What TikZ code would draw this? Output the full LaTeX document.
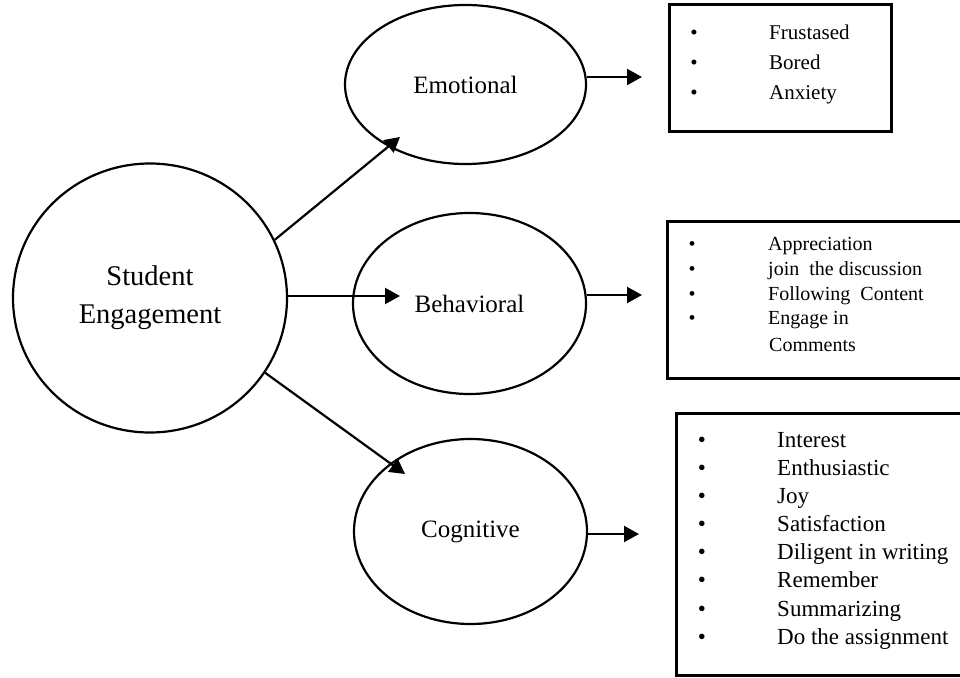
\documentclass[tikz,border=0pt]{standalone}
\usepackage{fontspec}
\setmainfont{Liberation Serif}
\usetikzlibrary{shapes.geometric,arrows.meta}
\tikzset{
  oval/.style={draw=black, line width=2.2pt, ellipse, inner sep=0pt},
  conn/.style={draw=black, line width=2.2pt, -{Triangle[length=15pt,width=16pt]}},
  listbox/.style={draw=black, line width=3pt, rectangle, inner sep=0pt},
  bul/.style={anchor=base, inner sep=0pt},
  itm/.style={anchor=base west, inner sep=0pt},
}
\begin{document}
\begin{tikzpicture}[x=1pt,y=-1pt]
\useasboundingbox (0,0) rectangle (960,677);
% main circle
\node[oval, minimum width=274pt, minimum height=269pt, align=center,
      font=\fontsize{28.5}{38}\selectfont] (S) at (150,298) {Student\\Engagement};
% ellipses
\node[oval, minimum width=241pt, minimum height=159pt, font=\fontsize{25}{30}\selectfont] (E) at (465.5,84.5) {Emotional};
\node[oval, minimum width=233pt, minimum height=181pt, font=\fontsize{25}{30}\selectfont] (B) at (469.5,303.5) {Behavioral};
\node[oval, minimum width=233pt, minimum height=185pt, font=\fontsize{25}{30}\selectfont] (C) at (470.5,531.5) {Cognitive};
% boxes
\node[listbox, minimum width=222pt, minimum height=126pt] (BE) at (780,68) {};
\node[listbox, minimum width=300pt, minimum height=157pt] (BB) at (817,299.5) {};
\node[listbox, minimum width=290pt, minimum height=262pt] (BC) at (821,544) {};
% arrow tips
\coordinate (tSE) at (400,137);
\coordinate (tSB) at (400,296);
\coordinate (tSC) at (405,474);
\coordinate (tE) at (642,77);
\coordinate (tB) at (642,295);
\coordinate (tC) at (639,534);
% connectors
\draw[conn] (S.25) -- (tSE);
\draw[conn] (S.east |- tSB) -- (tSB);
\draw[conn] (S.-33) -- (tSC);
\draw[conn] (E.east |- tE) -- (tE);
\draw[conn] (B.east |- tB) -- (tB);
\draw[conn] (C.east |- tC) -- (tC);
% emotional list
\begin{scope}[font=\fontsize{21}{25}\selectfont]
\node[bul] (be1) at (694,40) {•};
\node[bul] (be2) at (694,69) {•};
\node[bul] (be3) at (694,99) {•};
\node[itm] (te1) at (769,40) {Frustased};
\node[itm] (te2) at (769,69) {Bored};
\node[itm] (te3) at (769,99) {Anxiety};
\end{scope}
% behavioral list
\begin{scope}[font=\fontsize{20}{24}\selectfont]
\node[bul] (bb1) at (692,250) {•};
\node[bul] (bb2) at (692,275) {•};
\node[bul] (bb3) at (692,300) {•};
\node[bul] (bb4) at (692,324) {•};
\node[itm] (tb1) at (768,250) {Appreciation};
\node[itm] (tb2) at (768,275) {join\ \ the discussion};
\node[itm] (tb3) at (768,300) {Following\ \ Content};
\node[itm] (tb4) at (768,324) {Engage in};
\node[itm] (tb5) at (769,351) {Comments};
\end{scope}
% cognitive list
\begin{scope}[font=\fontsize{23}{27}\selectfont]
\foreach \y/\t [count=\i] in {447/Interest, 475/Enthusiastic, 503/Joy, 531/Satisfaction,
  559/Diligent in writing, 587/Remember, 616/Summarizing, 644/Do the assignment}{
  \node[bul] (bc\i) at (702,\y) {•};
  \node[itm] (tc\i) at (777,\y) {\t};
}
\end{scope}
\end{tikzpicture}
\end{document}
